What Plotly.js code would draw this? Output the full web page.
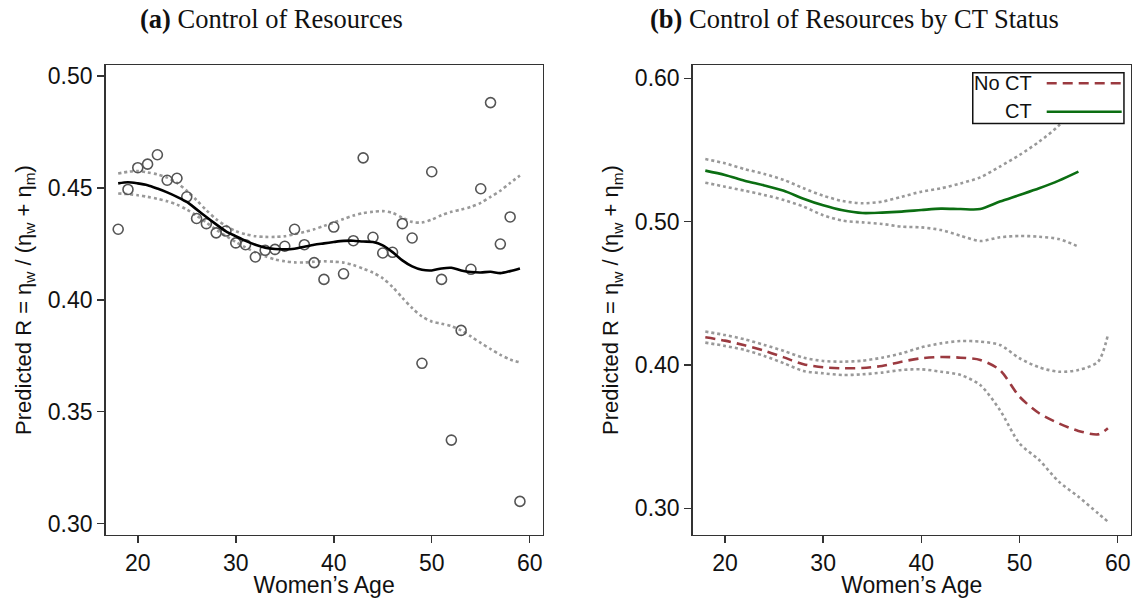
<!DOCTYPE html>
<html>
<head>
<meta charset="utf-8">
<script src="https://cdn.plot.ly/plotly-3.0.1.min.js"></script>
<style>
  html, body { margin: 0; padding: 0; background: #fff; }
  #chart { width: 1136px; height: 598px; }
</style>
</head>
<body>
<div id="chart"></div>
<script>
// panel (a): women's age and observed / fitted share
const ageA = [18, 19, 20, 21, 22, 23, 24, 25, 26, 27, 28, 29, 30, 31, 32, 33, 34, 35, 36, 37, 38,
              39, 40, 41, 42, 43, 44, 45, 46, 47, 48, 49, 50, 51, 52, 53, 54, 55, 56, 57, 58, 59];
const observedA = [0.4315, 0.4493, 0.459, 0.4606, 0.4648, 0.4534, 0.4543, 0.446, 0.4363, 0.434, 0.4299,
                   0.4307, 0.4254, 0.4246, 0.4191, 0.4221, 0.4225, 0.4239, 0.4315, 0.4246, 0.4166,
                   0.4091, 0.4325, 0.4116, 0.4264, 0.4634, 0.4279, 0.4209, 0.4212, 0.434, 0.4276,
                   0.3716, 0.4572, 0.4091, 0.3373, 0.3863, 0.4136, 0.4496, 0.4881, 0.4249, 0.437, 0.3099];
const fitA = [0.452, 0.4525, 0.452, 0.4512, 0.4497, 0.448, 0.446, 0.4437, 0.4404, 0.437, 0.4337,
              0.4306, 0.4284, 0.4263, 0.4246, 0.4233, 0.4227, 0.4225, 0.4228, 0.4237, 0.4246,
              0.4252, 0.4258, 0.4263, 0.4264, 0.426, 0.4258, 0.4243, 0.4213, 0.4176, 0.4149,
              0.4134, 0.4131, 0.414, 0.4143, 0.4131, 0.4124, 0.4122, 0.4125, 0.4119, 0.4128, 0.414];
const upperA = [0.4564, 0.4572, 0.4575, 0.4569, 0.456, 0.4546, 0.4522, 0.4487, 0.4445, 0.44, 0.436,
                0.433, 0.4307, 0.4293, 0.4284, 0.4281, 0.4281, 0.4284, 0.4293, 0.4303, 0.4315,
                0.433, 0.4345, 0.4361, 0.4376, 0.4387, 0.4393, 0.4396, 0.4388, 0.4367, 0.4348,
                0.4345, 0.4358, 0.4378, 0.4393, 0.4403, 0.4415, 0.4433, 0.446, 0.4487, 0.4522, 0.4555];
const lowerA = [0.4475, 0.4472, 0.4467, 0.446, 0.4451, 0.444, 0.4425, 0.4403, 0.4376, 0.4345, 0.4313,
                0.4285, 0.4258, 0.4234, 0.4212, 0.4194, 0.418, 0.4172, 0.4167, 0.4167, 0.417,
                0.4172, 0.417, 0.4166, 0.4155, 0.4139, 0.4121, 0.4096, 0.4057, 0.4009, 0.3963,
                0.3925, 0.3903, 0.3893, 0.3882, 0.3863, 0.3836, 0.3807, 0.378, 0.3754, 0.3733, 0.372];

// panel (b): by CT status
const ageCT = [18, 20, 22, 24, 26, 28, 30, 32, 34, 36, 38, 40, 42, 44, 46, 48, 50, 52, 54, 56];
const fitCT = [0.5356, 0.5326, 0.5286, 0.5253, 0.5216, 0.516, 0.5114, 0.5079, 0.506, 0.5063,
               0.507, 0.5081, 0.5091, 0.5088, 0.5088, 0.514, 0.5186, 0.5233, 0.5286, 0.5349];
const upperCT = [0.5437, 0.5407, 0.5367, 0.5333, 0.5291, 0.5233, 0.5181, 0.5144, 0.5128, 0.514,
                 0.5174, 0.5209, 0.5233, 0.5267, 0.5309, 0.5384, 0.5465, 0.5558, 0.567, 0.583];
const lowerCT = [0.5272, 0.5244, 0.5216, 0.5186, 0.5151, 0.5105, 0.5045, 0.5007, 0.4995, 0.4984,
                 0.4965, 0.496, 0.4942, 0.4902, 0.4865, 0.4891, 0.49, 0.4895, 0.4879, 0.4826];

const ageNoCT = [18, 20, 22, 24, 26, 28, 30, 32, 34, 36, 38, 40, 42, 44, 46, 48, 50, 52, 54, 56, 58, 59];
const fitNoCT = [0.4193, 0.417, 0.4137, 0.41, 0.4053, 0.4005, 0.3984, 0.3977, 0.3979, 0.3993, 0.4023,
                 0.4047, 0.4056, 0.4051, 0.4035, 0.3965, 0.3779, 0.3663, 0.3593, 0.354, 0.3516, 0.3558];
const upperNoCT = [0.4233, 0.4209, 0.4179, 0.414, 0.4098, 0.4051, 0.4028, 0.4023, 0.403, 0.4051, 0.4081,
                   0.4123, 0.4151, 0.4167, 0.4163, 0.414, 0.4047, 0.3984, 0.3953, 0.3965, 0.4023, 0.4209];
const lowerNoCT = [0.4156, 0.4133, 0.4105, 0.4063, 0.4012, 0.3958, 0.3942, 0.393, 0.3935, 0.3947, 0.3965,
                   0.397, 0.3953, 0.393, 0.386, 0.3686, 0.3453, 0.3337, 0.3186, 0.3081, 0.2965, 0.2907];

const legendNames = ['No CT', 'CT'];

const GRAY_DOT = '#999999';
const RED = '#9b3a40';
const GREEN = '#0b6e12';

function ciLine(x, y, xa, ya) {
    return {
        x: x, y: y, xaxis: xa, yaxis: ya, type: 'scatter', mode: 'lines',
        line: {color: GRAY_DOT, width: 2.6, dash: 'dot', shape: 'spline', smoothing: 0.8},
        hoverinfo: 'skip', showlegend: false
    };
}

const traces = [
    ciLine(ageA, upperA, 'x', 'y'),
    ciLine(ageA, lowerA, 'x', 'y'),
    {
        x: ageA, y: observedA, type: 'scatter', mode: 'markers', showlegend: false,
        marker: {symbol: 'circle-open', size: 10, color: '#555555', line: {width: 1.6}}
    },
    {
        x: ageA, y: fitA, type: 'scatter', mode: 'lines', showlegend: false,
        line: {color: '#000000', width: 2.6, shape: 'spline', smoothing: 0.8}
    },
    ciLine(ageCT, upperCT, 'x2', 'y2'),
    ciLine(ageCT, lowerCT, 'x2', 'y2'),
    ciLine(ageNoCT, upperNoCT, 'x2', 'y2'),
    ciLine(ageNoCT, lowerNoCT, 'x2', 'y2'),
    {
        x: ageNoCT, y: fitNoCT, xaxis: 'x2', yaxis: 'y2', type: 'scatter', mode: 'lines',
        name: legendNames[0], showlegend: false,
        line: {color: RED, width: 2.6, dash: '10px,6px', shape: 'spline', smoothing: 0.8}
    },
    {
        x: ageCT, y: fitCT, xaxis: 'x2', yaxis: 'y2', type: 'scatter', mode: 'lines',
        name: legendNames[1], showlegend: false,
        line: {color: GREEN, width: 2.6, shape: 'spline', smoothing: 0.8}
    }
];

const SANS = 'Liberation Sans, Arial, sans-serif';
const tickFont = {family: SANS, size: 23, color: '#111'};
const xTitleFont = {family: SANS, size: 23, color: '#111'};
const yTitleFont = {family: SANS, size: 22, color: '#111'};
const yTitle = 'Predicted R = η<sub>w</sub> / (η<sub>w</sub> + η<sub>m</sub>)';

function xAxis(domain, anchor) {
    return {
        domain: domain, anchor: anchor, range: [16.72, 61.32],
        tickvals: [20, 30, 40, 50, 60], ticks: 'outside', ticklen: 7, tickwidth: 1.5, tickcolor: '#333',
        showline: true, linecolor: '#333', linewidth: 1.5, mirror: true,
        showgrid: false, zeroline: false, tickfont: tickFont,
        title: {text: 'Women’s Age', font: xTitleFont, standoff: 4}
    };
}

function yAxis(domain, anchor, range, vals) {
    return {
        domain: domain, anchor: anchor, range: range,
        tickvals: vals, tickformat: '.2f', ticks: 'outside', ticklen: 7, tickwidth: 1.5, tickcolor: '#333',
        showline: true, linecolor: '#333', linewidth: 1.5, mirror: true,
        showgrid: false, zeroline: false, tickfont: tickFont,
        title: {text: yTitle, font: yTitleFont, standoff: 10}
    };
}

const titleFont = {family: 'Liberation Serif, Times New Roman, serif', size: 26.5, color: '#111'};
const legFont = {family: SANS, size: 20, color: '#111'};

function paperText(text, x, y, xanchor, font) {
    return {text: text, xref: 'paper', yref: 'paper', x: x, y: y,
            xanchor: xanchor, yanchor: 'middle', showarrow: false, font: font};
}

const layout = {
    width: 1136, height: 598,
    margin: {l: 0, r: 0, t: 0, b: 0},
    paper_bgcolor: '#fff', plot_bgcolor: '#fff',
    showlegend: false,
    xaxis: xAxis([0.0930, 0.4777], 'y'),
    yaxis: yAxis([0.1054, 0.8913], 'x', [0.2949, 0.5049], [0.30, 0.35, 0.40, 0.45, 0.50]),
    xaxis2: xAxis([0.6098, 0.9953], 'y2'),
    yaxis2: yAxis([0.1054, 0.8913], 'x2', [0.2814, 0.6093], [0.30, 0.40, 0.50, 0.60]),
    annotations: [
        paperText('<b>(a)</b> Control of Resources', 0.2386, 0.968, 'center', titleFont),
        paperText('<b>(b)</b> Control of Resources by CT Status', 0.7526, 0.968, 'center', titleFont),
        paperText(legendNames[0], 0.9102, 0.8607, 'right', legFont),
        paperText(legendNames[1], 0.9102, 0.8144, 'right', legFont)
    ],
    shapes: [
        // legend box
        {type: 'rect', xref: 'paper', yref: 'paper', x0: 0.8563, x1: 0.9894, y0: 0.7936, y1: 0.8784,
         fillcolor: '#fff', line: {color: '#111', width: 1.5}, layer: 'above'},
        {type: 'line', xref: 'paper', yref: 'paper', x0: 0.9214, x1: 0.9874, y0: 0.8607, y1: 0.8607,
         line: {color: RED, width: 2.6, dash: '10px,6px'}, layer: 'above'},
        {type: 'line', xref: 'paper', yref: 'paper', x0: 0.9214, x1: 0.9874, y0: 0.8132, y1: 0.8132,
         line: {color: GREEN, width: 2.6}, layer: 'above'}
    ]
};

Plotly.newPlot('chart', traces, layout, {staticPlot: true, displayModeBar: false});
</script>
</body>
</html>
